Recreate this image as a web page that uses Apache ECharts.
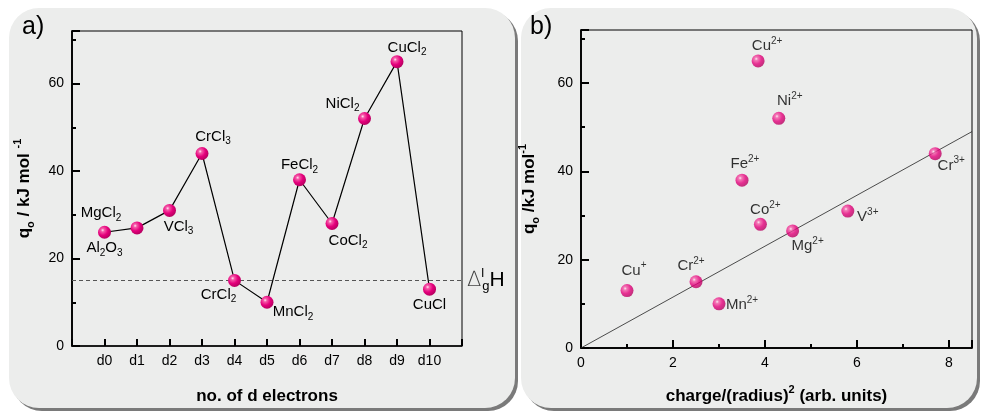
<!DOCTYPE html>
<html><head><meta charset="utf-8">
<script src="https://cdn.jsdelivr.net/npm/echarts@6/dist/echarts.min.js"></script>
<style>
html,body{margin:0;padding:0;background:#fff}
#wrap{position:relative;width:983px;height:413px;overflow:hidden}
.panel{position:absolute;top:8px;height:400px;border-radius:30px;background:#ecedec;box-shadow:3px 3px 0 #7a7a7a}
#pa{left:9px;width:506px}
#pb{left:521px;width:456px}
#c{position:absolute;left:0;top:0;width:983px;height:413px}
</style>
</head><body><div id="wrap"><div class="panel" id="pa"></div><div class="panel" id="pb"></div><div id="c"></div></div>
<script>
// ---------- data ----------
const dLabels = ['d0','d1','d2','d3','d4','d5','d6','d7','d8','d9','d10'];
const qA = [26, 27, 31, 44, 15, 10, 38, 28, 52, 65, 13];
const compoundsA = ['Al{b|2}O{b|3}','MgCl{b|2}','VCl{b|3}','CrCl{b|3}','CrCl{b|2}','MnCl{b|2}','FeCl{b|2}','CoCl{b|2}','NiCl{b|2}','CuCl{b|2}','CuCl'];
const dHvap = 15;
const ionsB = ['Cu{p|+}','Cr{p|2+}','Mn{p|2+}','Co{p|2+}','Mg{p|2+}','V{p|3+}','Cr{p|3+}','Fe{p|2+}','Ni{p|2+}','Cu{p|2+}'];
const chargeRadius = [1.0, 2.5, 3.0, 3.9, 4.6, 5.8, 7.7, 3.5, 4.3, 3.85];
const qB = [13, 15, 10, 28, 26.5, 31, 44, 38, 52, 65];
const fitX = [0, 8.5];
const fitY = [0, 49];
const yTicks = [0, 20, 40, 60];
const xTicksB = [0, 2, 4, 6, 8];

// ---------- styles ----------
const FONT = '"Liberation Sans", Arial, sans-serif';
const offA = [[0,16],[-36,-15],[9,16],[11,-17],[-16,14],[26,10],[0,-15],[16,17],[-22,-15],[10,-14],[0,16]];
const offB = [[7,-20],[-5,-16],[23,1],[5,-14],[15,15],[20,6],[16,12],[3,-16],[11,-17],[9,-15]];
const rich = {
  b:{fontSize:10, lineHeight:10, verticalAlign:'bottom', fontFamily:FONT, color:'#000'},
  p:{fontSize:10, lineHeight:10, verticalAlign:'top', fontFamily:FONT, color:'#000'}
};
const sphere = {type:'radial', x:0.36, y:0.34, r:0.72, colorStops:[
  {offset:0, color:'#ffe6f3'},{offset:0.18, color:'#f55aa8'},{offset:0.55, color:'#e5007c'},{offset:1, color:'#b0005c'}]};
const tickLbl = {color:'#000', fontSize:14, fontFamily:FONT};
const nameRich = {
  o:{fontSize:11, lineHeight:11, verticalAlign:'bottom', fontWeight:'bold', fontFamily:FONT, color:'#000'},
  s:{fontSize:11, lineHeight:11, verticalAlign:'top', fontWeight:'bold', fontFamily:FONT, color:'#000'}
};
const nameStyle = {fontSize:17, fontWeight:'bold', fontFamily:FONT, color:'#000', lineHeight:24, rich:nameRich};

function yAxes(grid, name, gap){
  return [
    {type:'value', gridIndex:grid, min:0, max:72, interval:10,
     name:name, nameLocation:'middle', nameGap:gap, nameRotate:90, nameTextStyle:nameStyle,
     axisLine:{show:true, onZero:false, lineStyle:{color:'#000', width:1.5}},
     axisTick:{show:true, inside:true, length:4, lineStyle:{color:'#000', width:2}},
     axisLabel:{...tickLbl, margin:8, formatter:v => yTicks.includes(v) ? String(v) : ''},
     splitLine:{show:false}},
    {type:'value', gridIndex:grid, min:0, max:72, interval:20, position:'left',
     axisLine:{show:true, onZero:false, lineStyle:{color:'#000', width:1.5}},
     axisTick:{show:true, inside:true, length:8, lineStyle:{color:'#000', width:2}},
     axisLabel:{show:false}, splitLine:{show:false}}
  ];
}

const option = {
  animation:false,
  backgroundColor:'transparent',
  graphic:[
    {type:'text', left:22, top:15, style:{text:'a)', fontSize:25, fontFamily:FONT, fill:'#000'}},
    {type:'text', left:530, top:15, style:{text:'b)', fontSize:25, fontFamily:FONT, fill:'#000'}}
  ],
  grid:[
    {left:72, top:31, width:390, height:322, show:true, borderColor:'#000', borderWidth:1},
    {left:581, top:30, width:391, height:323, show:true, borderColor:'#000', borderWidth:1}
  ],
  xAxis:[
    {type:'value', gridIndex:0, min:-1, max:11, interval:1,
     name:'no. of d electrons', nameLocation:'middle', nameGap:38, nameTextStyle:{...nameStyle, verticalAlign:'top'},
     axisLine:{show:true, onZero:false, lineStyle:{color:'#000', width:1.5}},
     axisTick:{show:true, inside:true, length:7, lineStyle:{color:'#000', width:2}},
     axisLabel:{...tickLbl, margin:8, formatter:v => (v>=0 && v<dLabels.length) ? dLabels[v] : ''},
     splitLine:{show:false}},
    {type:'value', gridIndex:1, min:0, max:8.5, interval:1,
     name:'charge/(radius){s|2} (arb. units)', nameLocation:'middle', nameGap:36, nameTextStyle:{...nameStyle, verticalAlign:'top'},
     axisLine:{show:true, onZero:false, lineStyle:{color:'#000', width:1.5}},
     axisTick:{show:true, inside:true, length:4, lineStyle:{color:'#000', width:2}},
     axisLabel:{...tickLbl, margin:8, formatter:v => xTicksB.includes(v) ? String(v) : ''},
     splitLine:{show:false}},
    {type:'value', gridIndex:1, min:0, max:8.5, interval:2, position:'bottom',
     axisLine:{show:true, onZero:false, lineStyle:{color:'#000', width:1.5}},
     axisTick:{show:true, inside:true, length:8, lineStyle:{color:'#000', width:2}},
     axisLabel:{show:false}, splitLine:{show:false}}
  ],
  yAxis:[
    ...yAxes(0, 'q{o|o} / kJ mol {s|-1}', 36),
    ...yAxes(1, 'q{o|o} /kJ mol{s|-1}', 40)
  ],
  series:[
    {type:'line', xAxisIndex:0, yAxisIndex:0, z:7,
     data: qA.map((q,i) => ({value:[i,q], label:{formatter:compoundsA[i], offset:offA[i]}})),
     lineStyle:{color:'#000', width:1.2},
     symbol:'circle', symbolSize:13, itemStyle:{color:sphere},
     label:{show:true, position:'inside', fontSize:15, lineHeight:20, fontFamily:FONT, color:'#000', rich:rich},
     markLine:{silent:true, symbol:'none', animation:false,
       lineStyle:{type:[4,3], color:'#555', width:1},
       label:{show:true, position:'end', distance:5, formatter:'{d|∆}{l|l}{g|g}{h|H}',
         rich:{
           d:{fontSize:21, fontFamily:'"DejaVu Sans", sans-serif', color:'#444', fontWeight:200, lineHeight:26},
           l:{fontSize:13, lineHeight:13, verticalAlign:'top', width:1, fontFamily:FONT, color:'#000'},
           g:{fontSize:13, lineHeight:13, verticalAlign:'bottom', fontFamily:FONT, color:'#000'},
           h:{fontSize:21, lineHeight:26, fontFamily:FONT, color:'#000'}
         }},
       data:[{yAxis:dHvap}]}},
    {type:'line', xAxisIndex:1, yAxisIndex:2, z:6, symbol:'none',
     data: fitX.map((x,i) => [x, fitY[i]]),
     lineStyle:{color:'#222', width:0.8}},
    {type:'scatter', xAxisIndex:1, yAxisIndex:2, z:7,
     data: qB.map((q,i) => ({value:[chargeRadius[i], q], label:{formatter:ionsB[i], offset:offB[i]}})),
     symbol:'circle', symbolSize:13, itemStyle:{color:sphere},
     label:{show:true, position:'inside', fontSize:15, lineHeight:20, fontFamily:FONT, color:'#000', rich:rich}}
  ]
};
const chart = echarts.init(document.getElementById('c'));
chart.setOption(option);
</script>
</body></html>
